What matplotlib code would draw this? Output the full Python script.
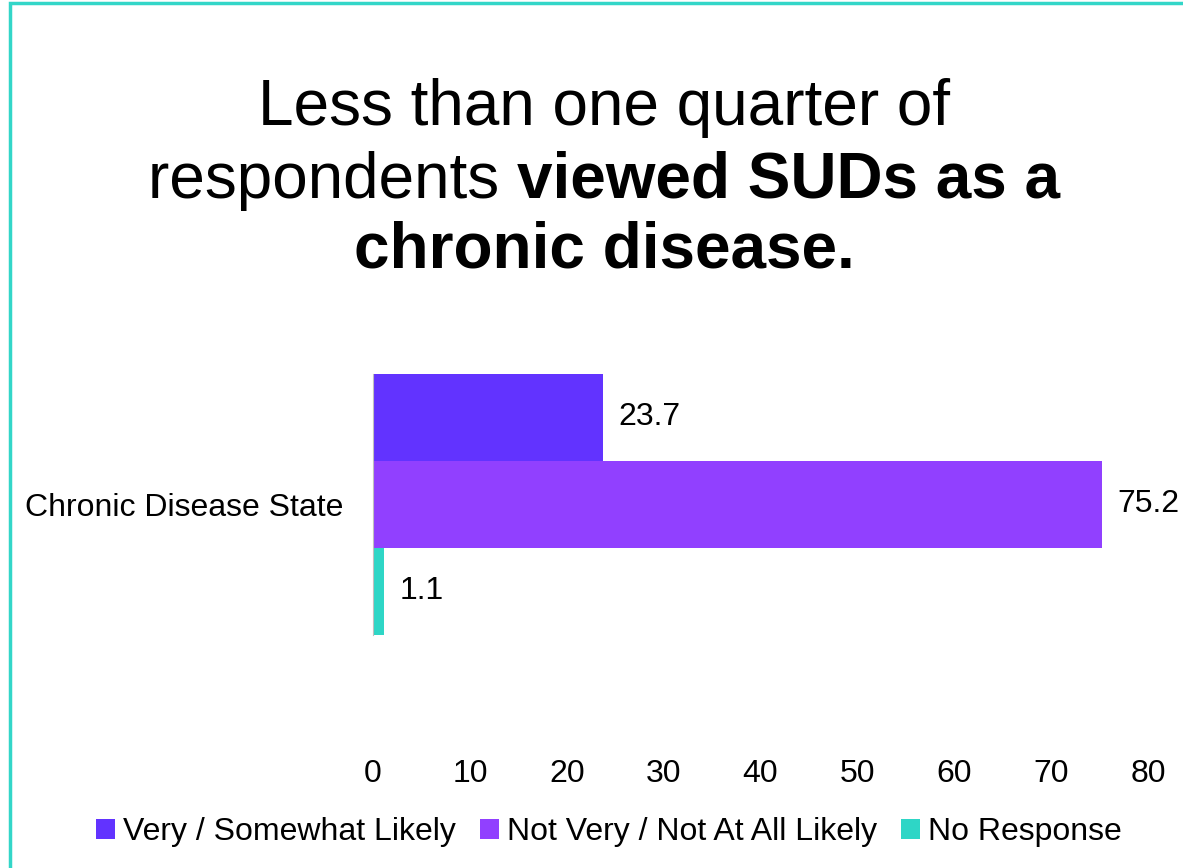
import matplotlib
matplotlib.use("Agg")
import matplotlib.pyplot as plt
from matplotlib.patches import Rectangle

# data
category = "Chronic Disease State"
series = ["Very / Somewhat Likely", "Not Very / Not At All Likely", "No Response"]
values = [23.7, 75.2, 1.1]
colors = ["#6233FF", "#9140FF", "#2ED6C6"]
xticks = [0, 10, 20, 30, 40, 50, 60, 70, 80]

plt.rcParams['font.family'] = ['Liberation Sans', 'DejaVu Sans']

W, H = 1183, 868
fig = plt.figure(figsize=(W / 100, H / 100), dpi=100)

# teal frame (right and bottom edges fall outside the image)
fig.patches.append(Rectangle((10 / W, -0.05), 1.2, 1 - 3 / H + 0.05,
                             transform=fig.transFigure, fill=False,
                             edgecolor="#33D6C8", linewidth=2.5))

ax = fig.add_axes([373 / W, 1 - 745 / H, (1148 - 373) / W, (745 - 330) / H])

lab_fs = 23
offsets = [-1, 0, 1]
for name, v, c, off in zip(series, values, colors, offsets):
    ax.barh(off, v, height=1.0, color=c, label=name)
    ax.text(v + 1.6, off, f"{v}", va="center", ha="left", fontsize=lab_fs)

ax.set_xlim(0, 80)
ax.set_ylim(2.77, -2.0)
ax.set_xticks(xticks)
ax.set_yticks([0])
ax.set_yticklabels([category])
ax.tick_params(axis="both", length=0, labelsize=lab_fs)
ax.tick_params(axis="x", pad=10)
ax.tick_params(axis="y", pad=21.5)
for s in ["top", "right", "bottom"]:
    ax.spines[s].set_visible(False)
ax.spines["left"].set_color("#BFBFBF")
ax.spines["left"].set_bounds(-1.5, 1.5)

fig.legend(loc="center", bbox_to_anchor=(609 / W, 1 - 832 / H), ncol=3,
           frameon=False, fontsize=lab_fs, handlelength=0.6, handleheight=0.6,
           handletextpad=0.25, columnspacing=0.75)

# title with mixed weights
cx = 604 / W
fs = 46
fig.text(cx, 1 - 125 / H, "Less than one quarter of", ha="center", va="baseline", fontsize=fs)
t1 = fig.text(0, 1 - 198 / H, "respondents ", ha="left", va="baseline", fontsize=fs)
t2 = fig.text(0, 1 - 198 / H, "viewed SUDs as a", ha="left", va="baseline", fontsize=fs, fontweight="bold")
fig.text(cx, 1 - 268 / H, "chronic disease.", ha="center", va="baseline", fontsize=fs, fontweight="bold")
r = fig.canvas.get_renderer()
w1 = t1.get_window_extent(r).width / W
w2 = t2.get_window_extent(r).width / W
x0 = cx - (w1 + w2) / 2
t1.set_x(x0)
t2.set_x(x0 + w1)

fig.savefig("out.png", dpi=100)
